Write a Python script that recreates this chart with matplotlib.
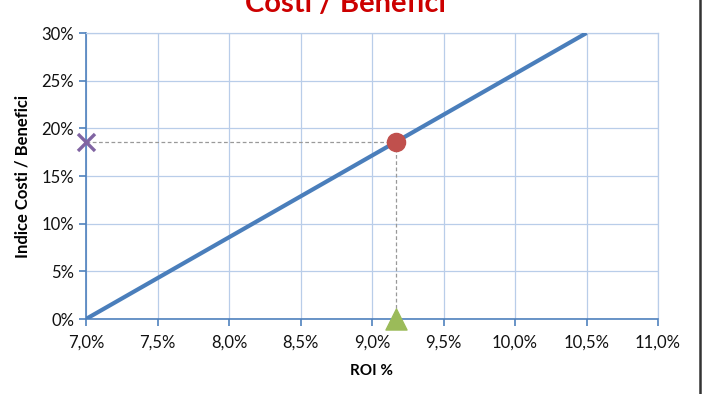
import matplotlib.pyplot as plt
from matplotlib.ticker import FuncFormatter
from matplotlib.lines import Line2D

# data
roi_line = [7.0, 10.5]          # ROI % at ends of line
index_line = [0.0, 30.0]        # cost/benefit index %
roi_point = 9.17
index_point = 18.6
x_ticks = [7.0, 7.5, 8.0, 8.5, 9.0, 9.5, 10.0, 10.5, 11.0]
y_ticks = [0, 5, 10, 15, 20, 25, 30]

plt.rcParams['font.family'] = ['Lato', 'DejaVu Sans']

fig = plt.figure(figsize=(7.04, 3.94), dpi=100)
ax = fig.add_axes([86 / 704, 75 / 394, 572 / 704, 286 / 394])

grid_c = '#b9cde9'
axis_c = '#4f81bd'
ax.set_xlim(7.0, 11.0)
ax.set_ylim(0, 30)
ax.set_xticks(x_ticks)
ax.set_yticks(y_ticks)
ax.xaxis.set_major_formatter(FuncFormatter(lambda v, p: f"{v:.1f}%".replace('.', ',')))
ax.yaxis.set_major_formatter(FuncFormatter(lambda v, p: f"{v:.0f}%"))
ax.grid(True, color=grid_c, linewidth=0.9)
ax.set_axisbelow(True)
for s in ['top', 'right']:
    ax.spines[s].set_color(grid_c)
    ax.spines[s].set_linewidth(0.9)
for s in ['left', 'bottom']:
    ax.spines[s].set_color(axis_c)
    ax.spines[s].set_linewidth(1.2)
ax.tick_params(axis='both', colors=axis_c, length=5, width=1.2, labelcolor='#111111', labelsize=12)
ax.tick_params(axis='x', pad=6)

# guide lines
ax.plot([roi_line[0], roi_point], [index_point, index_point], color='#999999',
        linestyle=(0, (3, 2)), linewidth=0.9, zorder=2)
ax.plot([roi_point, roi_point], [index_point, 0], color='#999999',
        linestyle=(0, (3, 2)), linewidth=0.9, zorder=2)

ax.plot(roi_line, index_line, color='#4a7ebb', linewidth=3, solid_capstyle='butt', zorder=3)
ax.scatter([roi_point], [index_point], s=170, color='#c0504d', zorder=5)
ax.scatter([roi_line[0]], [index_point], s=150, marker='x', color='#8064a2', linewidths=2.4,
           zorder=5, clip_on=False)
ax.scatter([roi_point], [0], s=230, marker='^', color='#9bbb59', zorder=5, clip_on=False)

ax.set_xlabel('ROI %', fontsize=11, fontweight='bold', labelpad=10)
ax.set_ylabel('Indice Costi / Benefici', fontsize=12, fontweight='bold', labelpad=8)

fig.text(345 / 704, 1 - 12 / 394, 'Costi / Benefici', color='#cc0000', fontsize=21,
         fontweight='bold', ha='center', va='baseline')

# right frame border
fig.add_artist(Line2D([700 / 704, 700 / 704], [0, 1], color='#333333', linewidth=1.8))

fig.savefig('out.png', dpi=100)
